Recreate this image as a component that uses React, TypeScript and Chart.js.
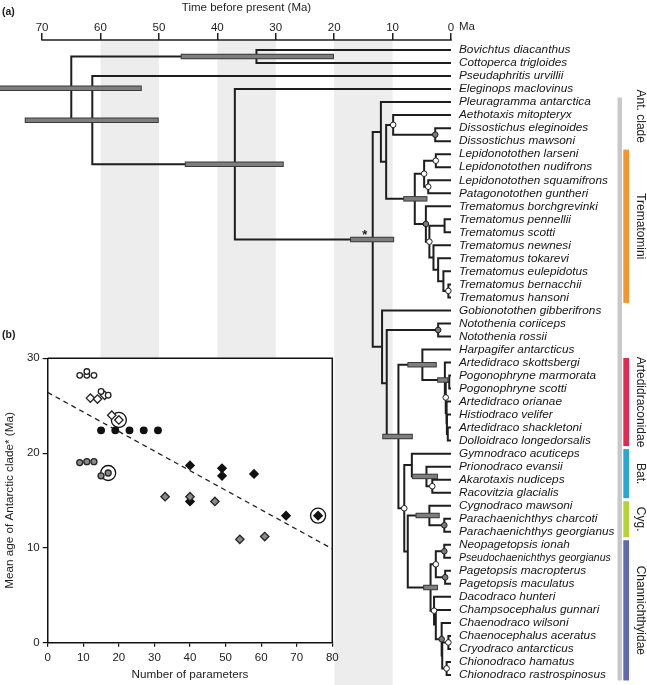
import React, { useEffect, useRef } from 'react';
import { Chart, registerables } from 'chart.js';

Chart.register(...registerables);

const FONT = '"Liberation Sans", Arial, Helvetica, sans-serif';
const INK = '#1e1e1e';

// ---------------- (a) time tree ----------------
const taxa = [
  'Bovichtus diacanthus', 'Cottoperca trigloides', 'Pseudaphritis urvillii', 'Eleginops maclovinus',
  'Pleuragramma antarctica', 'Aethotaxis mitopteryx', 'Dissostichus eleginoides', 'Dissostichus mawsoni',
  'Lepidonotothen larseni', 'Lepidonotothen nudifrons', 'Lepidonotothen squamifrons', 'Patagonotothen guntheri',
  'Trematomus borchgrevinki', 'Trematomus pennellii', 'Trematomus scotti', 'Trematomus newnesi',
  'Trematomus tokarevi', 'Trematomus eulepidotus', 'Trematomus bernacchii', 'Trematomus hansoni',
  'Gobionotothen gibberifrons', 'Notothenia coriiceps', 'Notothenia rossii', 'Harpagifer antarcticus',
  'Artedidraco skottsbergi', 'Pogonophryne marmorata', 'Pogonophryne scotti', 'Artedidraco orianae',
  'Histiodraco velifer', 'Artedidraco shackletoni', 'Dolloidraco longedorsalis', 'Gymnodraco acuticeps',
  'Prionodraco evansii', 'Akarotaxis nudiceps', 'Racovitzia glacialis', 'Cygnodraco mawsoni',
  'Parachaenichthys charcoti', 'Parachaenichthys georgianus', 'Neopagetopsis ionah', 'Pseudochaenichthys georgianus',
  'Pagetopsis macropterus', 'Pagetopsis maculatus', 'Dacodraco hunteri', 'Champsocephalus gunnari',
  'Chaenodraco wilsoni', 'Chaenocephalus aceratus', 'Cryodraco antarcticus', 'Chionodraco hamatus',
  'Chionodraco rastrospinosus',
];
const smallLabel = 39;

// [node id, child A, child B, age (Ma)] ; numeric child = taxon index
const nodes: [string, string | number, string | number, number][] = [
  ['root', 'n1', 'n2', 65.0],
  ['n1', 0, 1, 33.3],
  ['n2', 2, 'n3', 61.4],
  ['n3', 3, 'ant', 37.0],
  ['ant', 'A', 'B', 13.4],
  ['A', 4, 'C', 12.0],
  ['C', 'D', 'E', 11.1],
  ['D', 5, 'diss', 9.9],
  ['diss', 6, 7, 2.7],
  ['E', 'F', 'J', 6.2],
  ['F', 'G', 'H', 4.6],
  ['G', 8, 9, 2.6],
  ['H', 10, 11, 3.9],
  ['J', 12, 'K', 4.3],
  ['K', 'PS', 'L', 3.7],
  ['PS', 13, 14, 1.1],
  ['L', 15, 'M', 3.0],
  ['M', 16, 'N', 2.2],
  ['N', 17, 'O', 1.3],
  ['O', 18, 19, 0.45],
  ['B', 20, 'B2', 11.8],
  ['B2', 'noto', 'B3', 11.0],
  ['noto', 21, 22, 2.2],
  ['B3', 'P', 'Q', 9.0],
  ['P', 23, 'art', 4.9],
  ['art', 24, 'X1', 1.05],
  ['X1', 'pogo', 'X2', 0.9],
  ['pogo', 25, 26, 0.3],
  ['X2', 27, 'X3', 0.8],
  ['X3', 28, 'X4', 0.7],
  ['X4', 29, 30, 0.55],
  ['Q', 'R', 'S', 8.0],
  ['R', 31, 'R2', 6.7],
  ['R2', 32, 'AR', 4.2],
  ['AR', 33, 34, 3.2],
  ['S', 'T', 'U', 7.4],
  ['T', 35, 'PC', 3.7],
  ['PC', 36, 37, 1.15],
  ['U', 'V', 'W', 3.5],
  ['V', 'NP', 'PG', 2.6],
  ['NP', 38, 39, 1.15],
  ['PG', 40, 41, 1.0],
  ['W', 42, 'W2', 2.9],
  ['W2', 43, 'W3', 2.6],
  ['W3', 44, 'W4', 1.6],
  ['W4', 'CC', 'CH', 1.5],
  ['CC', 45, 46, 0.45],
  ['CH', 47, 48, 0.75],
];

const bandOld = [60, 40, 20];
const bandYoung = [50, 30, 10];

const hpdNodes = ['root', 'n2', 'n1', 'n3', 'ant', 'E', 'P', 'B3', 'art', 'R2', 'T', 'U'];
const hpdLow = [53.1, 50.2, 20.2, 28.8, 9.9, 4.2, 2.6, 6.7, 0.6, 2.4, 2.1, 2.4];
const hpdHigh = [80.0, 72.8, 46.1, 45.4, 17.1, 8.0, 7.3, 11.6, 2.2, 6.5, 5.9, 4.6];

const openNodes = ['D', 'F', 'G', 'H', 'K', 'O', 'X1', 'AR', 'Q', 'V', 'W', 'CC', 'CH'];
const grayNodes = ['diss', 'J', 'noto', 'PC', 'NP', 'PG', 'W3'];
const starNode = 'ant';

const cladeNames = ['Ant. clade', 'Trematomini', 'Artedidraconidae', 'Bat.', 'Cyg.', 'Channichthyidae'];
const cladeFirst = [4, 8, 24, 31, 35, 38];
const cladeLast = [48, 19, 30, 34, 37, 48];
const cladeColors = ['#c9c9c9', '#f3962d', '#e22a50', '#2aa6d5', '#b4d334', '#5f69b0'];

// ---------------- (b) inset ----------------
const openCircleX = [9, 11, 11, 13, 15, 17];
const openCircleY = [28.2, 28.2, 28.6, 28.2, 26.5, 26.1];
const openDiamondX = [12, 14, 16, 18, 20];
const openDiamondY = [25.8, 25.7, 26.1, 24.0, 23.5];
const blackCircleX = [15, 19, 23, 27, 31];
const blackCircleY = [22.4, 22.4, 22.4, 22.4, 22.4];
const grayCircleX = [9, 11, 13, 15, 17];
const grayCircleY = [19.0, 19.1, 19.1, 17.6, 17.9];
const blackDiamondX = [40, 40, 49, 49, 58, 67, 76];
const blackDiamondY = [18.7, 14.9, 18.4, 17.6, 17.8, 13.4, 13.4];
const grayDiamondX = [33, 40, 47, 54, 61];
const grayDiamondY = [15.4, 15.4, 14.9, 10.9, 11.2];
const ringX = [20, 17, 76];
const ringY = [23.5, 17.9, 13.4];
const trendX = [0, 80];
const trendY = [26.4, 9.9];

// ---------------- helpers ----------------
const nodeById = new Map(nodes.map((n) => [n[0], n]));
function nodeY(c: string | number): number {
  if (typeof c === 'number') return c;
  const n = nodeById.get(c)!;
  return (nodeY(n[1]) + nodeY(n[2])) / 2;
}
function nodeAge(c: string | number): number {
  return typeof c === 'number' ? 0 : nodeById.get(c)![3];
}
const pts = (xs: number[], ys: number[]) => xs.map((x, i) => ({ x, y: ys[i] }));
const noPad = (s: any) => { s.paddingLeft = 0; s.paddingRight = 0; s.paddingTop = 0; s.paddingBottom = 0; };

function TreeChart() {
  const ref = useRef<HTMLCanvasElement>(null);
  useEffect(() => {
    const datasets: any[] = [];
    datasets.push({
      data: openNodes.map((id) => ({ x: nodeAge(id), y: nodeY(id) })),
      showLine: false, pointRadius: 2.8, pointBackgroundColor: '#ffffff',
      pointBorderColor: INK, pointBorderWidth: 1, order: 0, clip: false,
    });
    datasets.push({
      data: grayNodes.map((id) => ({ x: nodeAge(id), y: nodeY(id) })),
      showLine: false, pointRadius: 2.8, pointBackgroundColor: '#7a7a7a',
      pointBorderColor: INK, pointBorderWidth: 1, order: 0, clip: false,
    });
    const ext = 0.17;
    hpdNodes.forEach((id, i) => {
      const y = nodeY(id);
      datasets.push({
        data: [{ x: hpdLow[i], y }, { x: hpdHigh[i], y }],
        showLine: true, pointRadius: 0, borderColor: '#7e7e7e', borderWidth: 3.5,
        borderCapStyle: 'butt', order: 1,
      });
      datasets.push({
        data: [{ x: hpdLow[i] - ext, y }, { x: hpdHigh[i] + ext, y }],
        showLine: true, pointRadius: 0, borderColor: '#3a3a3a', borderWidth: 5.5,
        borderCapStyle: 'butt', order: 2,
      });
    });
    nodes.forEach(([, a, b, age]) => {
      datasets.push({
        data: [
          { x: nodeAge(a), y: nodeY(a) },
          { x: age, y: nodeY(a) },
          { x: age, y: nodeY(b) },
          { x: nodeAge(b), y: nodeY(b) },
        ],
        showLine: true, pointRadius: 0, borderColor: INK, borderWidth: 2,
        borderJoinStyle: 'miter', borderCapStyle: 'butt', order: 3,
      });
    });

    const decor = {
      id: 'treeDecor',
      beforeDatasetsDraw(chart: any) {
        const { ctx, chartArea: a, scales } = chart;
        const x = scales.x;
        ctx.save();
        ctx.fillStyle = '#ededed';
        bandOld.forEach((s, i) => {
          const x1 = x.getPixelForValue(s);
          const x2 = x.getPixelForValue(bandYoung[i]);
          ctx.fillRect(x1, a.top, x2 - x1, a.bottom - a.top);
        });
        ctx.restore();
      },
      afterDraw(chart: any) {
        const { ctx, chartArea: a, scales } = chart;
        const x = scales.x;
        const y = scales.y;
        ctx.save();
        ctx.strokeStyle = INK;
        ctx.lineWidth = 1.5;
        ctx.beginPath();
        ctx.moveTo(x.getPixelForValue(70) - 0.75, a.top);
        ctx.lineTo(x.getPixelForValue(0) + 0.75, a.top);
        ctx.stroke();
        ctx.fillStyle = INK;
        ctx.font = `11.5px ${FONT}`;
        ctx.textAlign = 'center';
        ctx.textBaseline = 'middle';
        ctx.fillText('Time before present (Ma)', (x.getPixelForValue(70) + x.getPixelForValue(0)) / 2, 8);
        ctx.textAlign = 'left';
        ctx.fillText('Ma', x.getPixelForValue(0) + 8, 26.5);
        ctx.font = `bold 10.5px ${FONT}`;
        ctx.fillText('(a)', 2, 12);
        ctx.font = `bold 13px ${FONT}`;
        ctx.textAlign = 'center';
        ctx.textBaseline = 'alphabetic';
        ctx.fillText('*', x.getPixelForValue(nodeAge(starNode)) - 8, y.getPixelForValue(nodeY(starNode)));
        cladeNames.forEach((name, i) => {
          const y1 = y.getPixelForValue(cladeFirst[i] - 0.35);
          const y2 = y.getPixelForValue(cladeLast[i] + 0.42);
          ctx.fillStyle = cladeColors[i];
          if (i === 0) ctx.fillRect(617.5, y1, 4.5, y2 - y1);
          else ctx.fillRect(623.3, y1, 5.7, y2 - y1);
          ctx.fillStyle = '#222';
          ctx.font = `12px ${FONT}`;
          ctx.save();
          if (i === 0) {
            ctx.translate(640, y1 - 8);
            ctx.rotate(Math.PI / 2);
            ctx.textAlign = 'left';
          } else {
            ctx.translate(640, (y1 + y2) / 2);
            ctx.rotate(Math.PI / 2);
            ctx.textAlign = 'center';
          }
          ctx.textBaseline = 'middle';
          ctx.fillText(name, 0, 0);
          ctx.restore();
        });
        ctx.restore();
      },
    };

    const chart = new Chart(ref.current!, {
      type: 'scatter',
      data: { datasets },
      options: {
        animation: false,
        responsive: false,
        events: [],
        layout: { padding: 0, autoPadding: false },
        plugins: { legend: { display: false }, tooltip: { enabled: false } },
        scales: {
          x: {
            type: 'linear', position: 'top', reverse: true, min: 0, max: 77.2,
            afterFit: (s: any) => { s.height = 40; noPad(s); },
            grid: { display: true, drawOnChartArea: false, drawTicks: true, tickLength: 7, color: INK, lineWidth: 1.5 },
            border: { display: false },
            ticks: {
              stepSize: 10, includeBounds: false, autoSkip: false, maxRotation: 0, padding: -2,
              color: INK, font: { family: FONT, size: 11.5 },
            },
          },
          y: {
            type: 'linear', position: 'right', reverse: true, min: -0.77, max: 48.77,
            afterFit: (s: any) => { s.width = 196; noPad(s); },
            grid: { display: false, drawTicks: false },
            border: { display: false },
            ticks: {
              stepSize: 1, includeBounds: false, autoSkip: false, maxTicksLimit: 100, padding: 8,
              color: '#151515',
              font: (ctx: any) => ({
                family: FONT, size: ctx.tick && ctx.tick.value === smallLabel ? 10.5 : 11.8, style: 'italic',
              }),
              callback: (v: any) => taxa[v] ?? '',
            },
          },
        },
      } as any,
      plugins: [decor],
    });
    return () => chart.destroy();
  }, []);
  return <canvas ref={ref} width={647} height={685} style={{ position: 'absolute', left: 0, top: 0, display: 'block' }} />;
}

function InsetChart() {
  const ref = useRef<HTMLCanvasElement>(null);
  useEffect(() => {
    const marker = (xs: number[], ys: number[], style: string, r: number, bg: string, bc: string) => ({
      data: pts(xs, ys), showLine: false, pointStyle: style, pointRadius: r,
      pointBackgroundColor: bg, pointBorderColor: bc, pointBorderWidth: 1.3, order: 0, clip: false,
    });
    const datasets: any[] = [
      marker(openCircleX, openCircleY, 'circle', 2.8, '#ffffff', '#222'),
      marker(grayCircleX, grayCircleY, 'circle', 3, '#8a8a8a', '#222'),
      marker(blackCircleX, blackCircleY, 'circle', 3.3, '#111', '#111'),
      marker(openDiamondX, openDiamondY, 'rectRot', 4.2, '#ffffff', '#222'),
      marker(grayDiamondX, grayDiamondY, 'rectRot', 4.2, '#8a8a8a', '#222'),
      marker(blackDiamondX, blackDiamondY, 'rectRot', 4.2, '#111', '#111'),
      { ...marker(ringX, ringY, 'circle', 7.5, '#ffffff', '#111'), order: 1 },
      {
        data: pts(trendX, trendY), showLine: true, pointRadius: 0, borderColor: '#222',
        borderWidth: 1.3, borderDash: [5, 4], order: 2,
      },
    ];
    const decor = {
      id: 'insetDecor',
      beforeDraw(chart: any) {
        const { ctx, chartArea: a, height } = chart;
        ctx.save();
        ctx.fillStyle = '#ffffff';
        ctx.fillRect(0, a.top, a.right + 2, height - a.top);
        ctx.restore();
      },
      afterDraw(chart: any) {
        const { ctx, chartArea: a } = chart;
        ctx.save();
        ctx.strokeStyle = '#111';
        ctx.lineWidth = 1.5;
        ctx.beginPath();
        ctx.moveTo(a.left, a.top);
        ctx.lineTo(a.right, a.top);
        ctx.lineTo(a.right, a.bottom);
        ctx.stroke();
        ctx.fillStyle = INK;
        ctx.font = `bold 10.5px ${FONT}`;
        ctx.textBaseline = 'middle';
        ctx.fillText('(b)', 2, 9);
        ctx.restore();
      },
    };
    const chart = new Chart(ref.current!, {
      type: 'scatter',
      data: { datasets },
      options: {
        animation: false,
        responsive: false,
        events: [],
        layout: { padding: { top: 32.3, right: 7.7, left: 0, bottom: 0 }, autoPadding: false },
        plugins: { legend: { display: false }, tooltip: { enabled: false } },
        scales: {
          x: {
            type: 'linear', min: 0, max: 80,
            afterFit: (s: any) => { s.height = 42.3; noPad(s); },
            grid: { display: true, drawOnChartArea: false, drawTicks: true, tickLength: 4, color: '#111', lineWidth: 1.2 },
            border: { display: true, color: '#111', width: 1.5 },
            ticks: { stepSize: 10, padding: 4, color: '#222', maxRotation: 0, font: { family: FONT, size: 11.5 } },
            title: {
              display: true, text: 'Number of parameters', color: '#222',
              font: { family: FONT, size: 11.7 }, padding: { top: 0, bottom: 3 },
            },
          },
          y: {
            type: 'linear', min: 0, max: 30,
            afterFit: (s: any) => { s.width = 47.7; noPad(s); },
            grid: { display: true, drawOnChartArea: false, drawTicks: true, tickLength: 5, color: '#111', lineWidth: 1.2 },
            border: { display: true, color: '#111', width: 1.5 },
            ticks: { stepSize: 10, padding: 3, color: '#222', font: { family: FONT, size: 11.5 } },
            title: {
              display: true, text: 'Mean age of Antarctic clade* (Ma)', color: '#222',
              font: { family: FONT, size: 11.7 }, padding: { top: 3, bottom: 0 },
            },
          },
        },
      } as any,
      plugins: [decor],
    });
    return () => chart.destroy();
  }, []);
  return <canvas ref={ref} width={340} height={359} style={{ position: 'absolute', left: 0, top: 326, display: 'block' }} />;
}

export default function App() {
  return (
    <div style={{ position: 'absolute', left: 0, top: 0, width: 647, height: 685, background: '#ffffff', overflow: 'hidden' }}>
      <TreeChart />
      <InsetChart />
    </div>
  );
}
